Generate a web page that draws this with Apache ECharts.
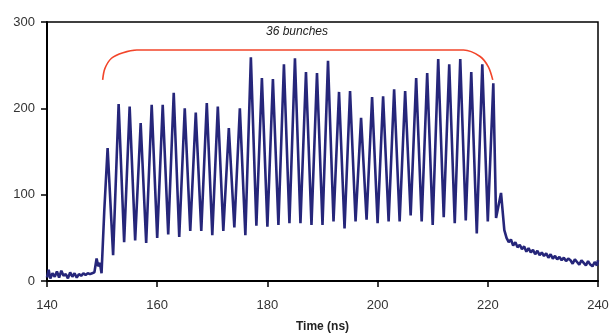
<!DOCTYPE html>
<html>
<head>
<meta charset="utf-8">
<script src="https://cdn.jsdelivr.net/npm/echarts@6/dist/echarts.min.js"></script>
<style>
  html, body { margin: 0; padding: 0; background: #fff; }
  #chart { width: 610px; height: 335px; }
</style>
</head>
<body>
<div id="chart"></div>
<script>
// baseline noise before the train
const preTimes = [140, 140.3, 140.6, 141, 141.4, 141.8, 142.2, 142.6, 143, 143.4, 143.8, 144.2, 144.6, 145, 145.4, 145.8, 146.2, 146.6, 147, 147.4, 147.8, 148.2, 148.6]
const preValues = [4, 13, 3, 9, 5, 11, 4, 12, 6, 8, 3, 10, 5, 9, 4, 8, 6, 9, 7, 9, 8, 9, 10]

// small bump + rising edge
const riseTimes = [149.0, 149.3, 149.6, 149.9, 150.4]
const riseValues = [26, 17, 21, 9, 82]

// 36 bunches
const peakTimes = [151, 153, 155, 157, 159, 161, 163, 165, 167, 169, 171, 173, 175, 177, 179, 181, 183, 185,
  187, 189, 191, 193, 195, 197, 199, 201, 203, 205, 207, 209, 211, 213, 215, 217, 219, 221]
const peakValues = [154, 205, 202, 183, 204, 204, 218, 200, 195, 206, 202, 177, 200, 259, 235, 234, 251, 258,
  242, 241, 255, 219, 220, 189, 213, 214, 222, 220, 235, 241, 257, 251, 257, 242, 251, 229]

// minima between bunches
const troughTimes = [152, 154, 156, 158, 160, 162, 164, 166, 168, 170, 172, 174, 176, 178, 180, 182, 184,
  186, 188, 190, 192, 194, 196, 198, 200, 202, 204, 206, 208, 210, 212, 214, 216, 218, 220]
const troughValues = [30, 45, 47, 44, 50, 54, 51, 58, 58, 53, 58, 62, 53, 64, 63, 65, 67,
  67, 65, 65, 69, 61, 69, 71, 67, 69, 69, 76, 69, 65, 74, 67, 70, 55, 69]

// decay after the train
const tailTimes = [221.5, 222.4, 223.0, 223.4, 223.8, 224.2, 224.6, 225, 225.4, 225.8, 226.2, 226.6, 227, 227.4, 227.8,
  228.2, 228.6, 229, 229.4, 229.8, 230.2, 230.6, 231, 231.4, 231.8, 232.2, 232.6, 233, 233.4, 233.8, 234.2, 234.6,
  235, 235.4, 235.8, 236.2, 236.6, 237, 237.4, 237.8, 238.2, 238.6, 239, 239.4, 239.8, 240]
const tailValues = [73, 102, 59, 50, 45, 48, 41, 45, 39, 42, 37, 40, 34, 38, 33, 36, 31, 35, 30, 33, 29, 32, 27, 31,
  26, 29, 25, 28, 24, 27, 23, 26, 24, 20, 25, 22, 19, 24, 21, 18, 23, 19, 17, 22, 18, 24]

// red bracket over the train
const bracketTimes = [150.1, 150.5, 151.7, 153.8, 156.3, 215.6, 218.6, 220.1, 220.9]
const bracketValues = [233, 246, 258, 264.5, 267.5, 267.5, 260, 248, 233]

const xTicks = [140, 160, 180, 200, 220, 240]
const yTicks = [0, 100, 200, 300]

const zip = (ts, vs) => ts.map((t, i) => [t, vs[i]])
const signal = []
  .concat(zip(preTimes, preValues))
  .concat(zip(riseTimes, riseValues))
  .concat(zip(peakTimes, peakValues))
  .concat(zip(troughTimes, troughValues))
  .concat(zip(tailTimes, tailValues))
  .sort((a, b) => a[0] - b[0])

const chart = echarts.init(document.getElementById('chart'))
const font = 'Liberation Sans'
const axisCommon = {
  type: 'value',
  splitLine: { show: false },
  axisLine: { show: true, onZero: false, lineStyle: { color: '#000', width: 2 } },
  axisTick: { show: true, inside: false, length: 6, lineStyle: { color: '#000', width: 1.5 } },
  axisLabel: { color: '#333', fontSize: 13, fontFamily: font }
}

chart.setOption({
  animation: false,
  grid: {
    left: 47, right: 12, top: 22, bottom: 54,
    outerBoundsMode: 'none',
    show: true, borderColor: '#000', borderWidth: 1.5
  },
  xAxis: Object.assign({}, axisCommon, {
    min: xTicks[0], max: xTicks[xTicks.length - 1], interval: 20,
    axisLabel: Object.assign({}, axisCommon.axisLabel, { margin: 18 }),
    name: 'Time (ns)', nameLocation: 'middle', nameGap: 40,
    nameTextStyle: { color: '#222', fontSize: 12, fontWeight: 'bold', fontFamily: font }
  }),
  yAxis: Object.assign({}, axisCommon, {
    min: yTicks[0], max: yTicks[yTicks.length - 1], interval: 100,
    axisLabel: Object.assign({}, axisCommon.axisLabel, { margin: 12 })
  }),
  graphic: [{
    type: 'text',
    style: { text: '36 bunches', x: 297, y: 32, textAlign: 'center', textVerticalAlign: 'middle',
      font: 'italic 12px ' + font, fill: '#222' }
  }],
  series: [
    {
      type: 'line',
      data: signal,
      showSymbol: false,
      lineStyle: { color: '#26267a', width: 2.6 }
    },
    {
      type: 'line',
      data: zip(bracketTimes, bracketValues),
      showSymbol: false,
      smooth: 0.3,
      lineStyle: { color: '#f2452a', width: 1.6 }
    }
  ]
})
</script>
</body>
</html>
